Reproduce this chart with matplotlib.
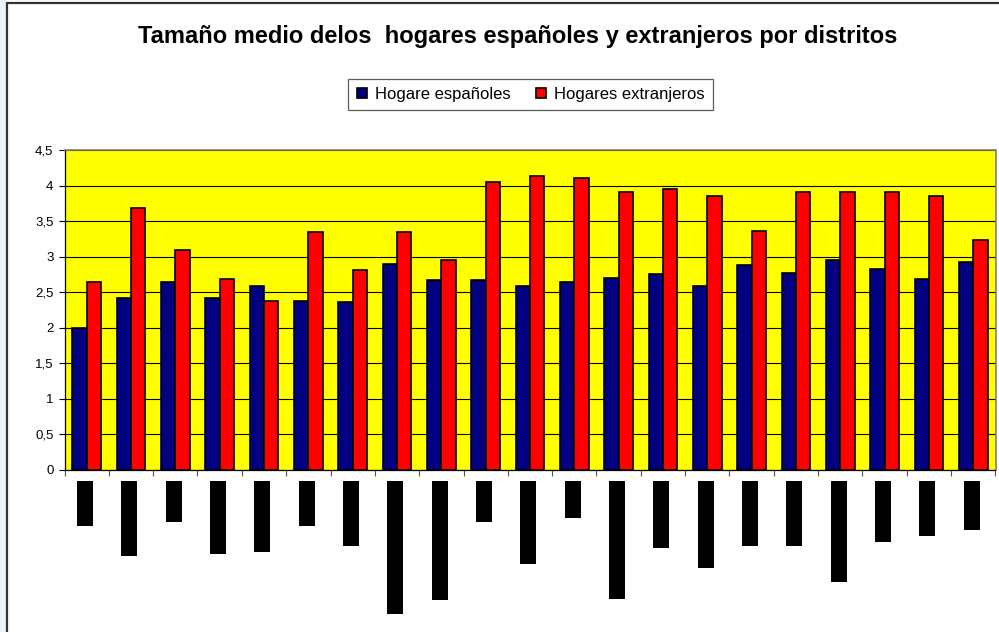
import matplotlib
matplotlib.use("Agg")
from matplotlib import pyplot as plt
from matplotlib.patches import Rectangle
from matplotlib.ticker import FuncFormatter
import numpy as np

plt.rcParams['font.family'] = ['Liberation Sans', 'DejaVu Sans']

# average household size per district (21 districts, names not readable)
districts = [str(i) for i in range(1, 22)]
hogares_espanoles = [2.00, 2.42, 2.65, 2.42, 2.59, 2.37, 2.36, 2.89, 2.67, 2.67, 2.59,
                     2.64, 2.70, 2.76, 2.59, 2.88, 2.77, 2.96, 2.82, 2.68, 2.93]
hogares_extranjeros = [2.65, 3.69, 3.10, 2.68, 2.37, 3.35, 2.81, 3.34, 2.95, 4.05, 4.14,
                       4.11, 3.91, 3.95, 3.86, 3.36, 3.91, 3.91, 3.91, 3.86, 3.24]
# the district labels came out as black blocks; their length in pixels
label_len = [45, 75, 41, 73, 71, 45, 65, 133, 119, 41, 83,
             37, 118, 67, 87, 65, 65, 101, 61, 55, 49]

W, H = 999, 632
fig = plt.figure(figsize=(W / 100, H / 100), dpi=100)

# light strip on the far left and the chart frame
fig.patches.append(Rectangle((0, 0), 5.5 / W, 1, transform=fig.transFigure,
                             facecolor='#edf1f9', edgecolor='none', zorder=0))
fig.patches.append(Rectangle((6.5 / W, -0.05), 1.1, 1.05 - 3.5 / H,
                             transform=fig.transFigure, facecolor='none',
                             edgecolor='#333333', linewidth=1.6, zorder=0))

left, right = 64.5, 995.5
top, base = 150, 470
ax = fig.add_axes([left / W, (H - base) / H, (right - left) / W, (base - top) / H])
ax.set_facecolor('#ffff00')

x = np.arange(len(districts))
bw = 0.32
ax.bar(x - bw / 2, hogares_espanoles, bw, color='#000080', edgecolor='black',
       linewidth=1.2, label='Hogare españoles', zorder=3)
ax.bar(x + bw / 2, hogares_extranjeros, bw, color='#ff0000', edgecolor='black',
       linewidth=1.2, label='Hogares extranjeros', zorder=3)

ax.set_ylim(0, 4.5)
ax.set_xlim(-0.5, len(districts) - 0.5)
ax.set_yticks(np.arange(0, 4.51, 0.5))
ax.yaxis.set_major_formatter(FuncFormatter(lambda v, p: ('%g' % v).replace('.', ',')))
ax.set_xticks(np.arange(len(districts) + 1) - 0.5)
ax.set_xticklabels([])
ax.tick_params(axis='y', direction='out', length=4, width=0.8, labelsize=9.5, pad=4)
ax.tick_params(axis='x', direction='out', length=4, width=0.8, color='#555555')
ax.grid(axis='y', color='black', linewidth=0.8, zorder=1)
for s in ['top', 'right']:
    ax.spines[s].set_color('#808080')
    ax.spines[s].set_linewidth(1.2)
for s in ['left', 'bottom']:
    ax.spines[s].set_color('black')
    ax.spines[s].set_linewidth(0.9)

# black label blocks under the axis
ax2 = fig.add_axes([left / W, 0, (right - left) / W, (H - base) / H], sharex=ax)
ax2.set_ylim(H - base, 0)
ax2.bar(x - 0.04, label_len, 0.36, bottom=11, color='black', edgecolor='none')
ax2.axis('off')

fig.text(518 / W, 1 - 37 / H, 'Tamaño medio delos  hogares españoles y extranjeros por distritos',
         ha='center', va='center', fontsize=17, fontweight='bold')

leg = fig.legend(loc='center', bbox_to_anchor=(530.5 / W, 1 - 94.5 / H), ncol=2,
                 fontsize=12, frameon=True, fancybox=False, edgecolor='#333333',
                 handlelength=0.6, handleheight=0.6, handletextpad=0.5,
                 columnspacing=1.5, borderpad=0.5, borderaxespad=0)
leg.get_frame().set_linewidth(0.9)

fig.savefig('out.png', dpi=100)
